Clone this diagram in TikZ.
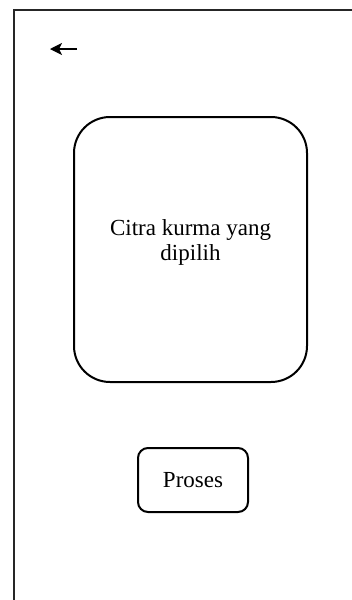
\documentclass[tikz,border=0pt]{standalone}
\usepackage{fontspec}
\setmainfont{Liberation Serif}
\usetikzlibrary{arrows.meta,positioning}

\begin{document}
\begin{tikzpicture}[x=1pt,y=-1pt,
    panel/.style={draw,line width=2pt,rounded corners=36pt,minimum width=233pt,minimum height=265pt},
    button/.style={draw,line width=2pt,rounded corners=10pt,minimum width=110pt,minimum height=64pt,inner sep=0pt},
    label text/.style={font=\fontsize{23}{25}\selectfont,align=center},
    back arrow/.style={line width=1.2pt,-{Stealth[length=12pt,width=12pt,inset=3pt]}}]
        \useasboundingbox (0,0) rectangle (352,600);
        % frame of the screen
        \draw [black!85, line width=2pt] (14,600) -- (14,10) -- (352,10);
        % back arrow
        \coordinate (back end) at (77,49);
        \coordinate (back tip) at (50,49);
        \draw [back arrow] (back end) -- (back tip);
        % image panel
        \node [panel] (citra) at (190.5,249.5) {};
        \node [label text] (citra text) at ([yshift=7pt]citra.center) {Citra kurma yang\\dipilih};
        % button
        \node [button, label text] (proses) at (193,480) {Proses};
    \end{tikzpicture}
\end{document}
